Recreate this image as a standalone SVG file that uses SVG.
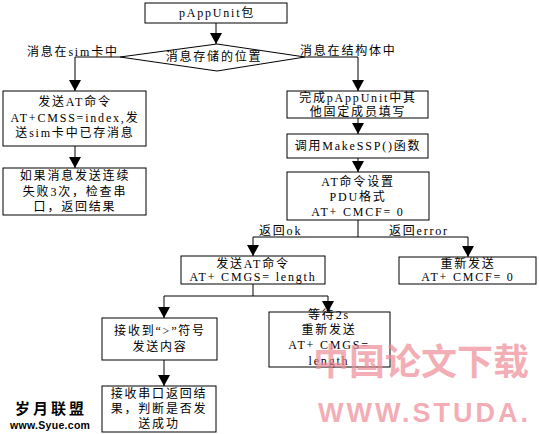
<svg xmlns="http://www.w3.org/2000/svg" width="539" height="434" viewBox="0 0 539 434">
<style>
  .box{fill:#fff;stroke:#000;stroke-width:1}
  .t{font-family:"Liberation Serif","Noto Sans CJK SC",serif;font-size:12px;fill:#000;letter-spacing:1.8px}
  .c{text-anchor:middle}
  .ln{fill:none;stroke:#000;stroke-width:1}
  .wm{font-family:"Liberation Sans","Noto Sans CJK SC",sans-serif;font-weight:bold;fill:#ee8d97;opacity:0.7}
</style>
<defs>
  <marker id="ah" markerUnits="userSpaceOnUse" viewBox="0 -6 11 12" refX="11" refY="0" markerWidth="11" markerHeight="12" orient="auto">
    <path d="M0,-6 L11,0 L0,6 z" fill="#000"/>
  </marker>
</defs>
<rect width="539" height="434" fill="#fff"/>

<g id="connectors">
  <path class="ln" d="M216,23 V44" marker-end="url(#ah)"/>
  <path class="ln" d="M120,57 H75 V91" marker-end="url(#ah)"/>
  <path class="ln" d="M305,57 H358 V91" marker-end="url(#ah)"/>
  <path class="ln" d="M75,146 V168" marker-end="url(#ah)"/>
  <path class="ln" d="M358,118 V134" marker-end="url(#ah)"/>
  <path class="ln" d="M358,158 V172" marker-end="url(#ah)"/>
  <path class="ln" d="M358,220 V237 M253,237 H468"/>
  <path class="ln" d="M253,237 V256" marker-end="url(#ah)"/>
  <path class="ln" d="M468,237 V257" marker-end="url(#ah)"/>
  <path class="ln" d="M253,284 V296 M164,296 H328"/>
  <path class="ln" d="M164,296 V318" marker-end="url(#ah)"/>
  <path class="ln" d="M328,296 V312" marker-end="url(#ah)"/>
  <path class="ln" d="M164,360 V386" marker-end="url(#ah)"/>
  <text class="t" x="27" y="56">消息在sim卡中</text>
  <text class="t" x="300" y="55">消息在结构体中</text>
  <text class="t" x="259" y="235">返回ok</text>
  <text class="t" x="389" y="235">返回error</text>
</g>

<g id="n_start">
  <rect class="box" x="145" y="3" width="142" height="20"/>
  <text class="t c" x="217" y="17">pAppUnit包</text>
</g>

<g id="n_decision">
  <polygon class="box" points="120,57 217,44 305,57 217,71"/>
  <text class="t c" x="214" y="61">消息存储的位置</text>
</g>

<g id="n_send_sim">
  <rect class="box" x="3" y="91" width="143" height="55"/>
  <text class="t c" x="75" y="106">发送AT命令</text>
  <text class="t c" x="75" y="122">AT+CMSS=index,发</text>
  <text class="t c" x="75" y="137">送sim卡中已存消息</text>
</g>

<g id="n_fail">
  <rect class="box" x="3" y="168" width="143" height="47"/>
  <text class="t c" x="75" y="180">如果消息发送连续</text>
  <text class="t c" x="75" y="196">失败3次，检查串</text>
  <text class="t c" x="75" y="211">口，返回结果</text>
</g>

<g id="n_fill">
  <rect class="box" x="287" y="91" width="141" height="27"/>
  <text class="t c" x="358" y="102">完成pAppUnit中其</text>
  <text class="t c" x="358" y="116">他固定成员填写</text>
</g>

<g id="n_makessp">
  <rect class="box" x="287" y="134" width="141" height="24"/>
  <text class="t c" x="358" y="150">调用MakeSSP()函数</text>
</g>

<g id="n_pdu">
  <rect class="box" x="287" y="172" width="142" height="48"/>
  <text class="t c" x="358" y="186">AT命令设置</text>
  <text class="t c" x="358" y="201">PDU格式</text>
  <text class="t c" x="358" y="216">AT+ CMCF= 0</text>
</g>

<g id="n_cmgs">
  <rect class="box" x="181" y="256" width="144" height="28"/>
  <text class="t c" x="253" y="268">发送AT命令</text>
  <text class="t c" x="253" y="281">AT+ CMGS= length</text>
</g>

<g id="n_resend_cmcf">
  <rect class="box" x="399" y="257" width="137" height="27"/>
  <text class="t c" x="468" y="268">重新发送</text>
  <text class="t c" x="468" y="281">AT+ CMCF= 0</text>
</g>

<g id="n_recv_gt">
  <rect class="box" x="102" y="318" width="115" height="42"/>
  <text class="t c" x="160" y="335">接收到“&gt;”符号</text>
  <text class="t c" x="160" y="351">发送内容</text>
</g>

<g id="n_wait">
  <rect class="box" x="269" y="312" width="121" height="55"/>
  <text class="t c" x="329" y="319">等待2s</text>
  <text class="t c" x="329" y="334">重新发送</text>
  <text class="t c" x="329" y="349">AT+ CMGS=</text>
  <text class="t c" x="329" y="365">length</text>
</g>

<g id="n_result">
  <rect class="box" x="102" y="386" width="114" height="46"/>
  <text class="t c" x="159" y="398">接收串口返回结</text>
  <text class="t c" x="159" y="413">果，判断是否发</text>
  <text class="t c" x="159" y="428">送成功</text>
</g>

<g id="watermarks">
  <text class="wm" x="313" y="375" font-size="36" letter-spacing="0">中国论文下载</text>
  <text class="wm" x="318" y="422" font-size="27" letter-spacing="3">WWW.STUDA.</text>
  <text x="15" y="414" font-family="Liberation Sans,'Noto Sans CJK SC',sans-serif" font-weight="bold" font-size="15" letter-spacing="3">岁月联盟</text>
  <text x="10" y="429" font-family="Liberation Sans,sans-serif" font-weight="bold" font-size="10.5" letter-spacing="0.3">www.Syue.com</text>
</g>
</svg>
